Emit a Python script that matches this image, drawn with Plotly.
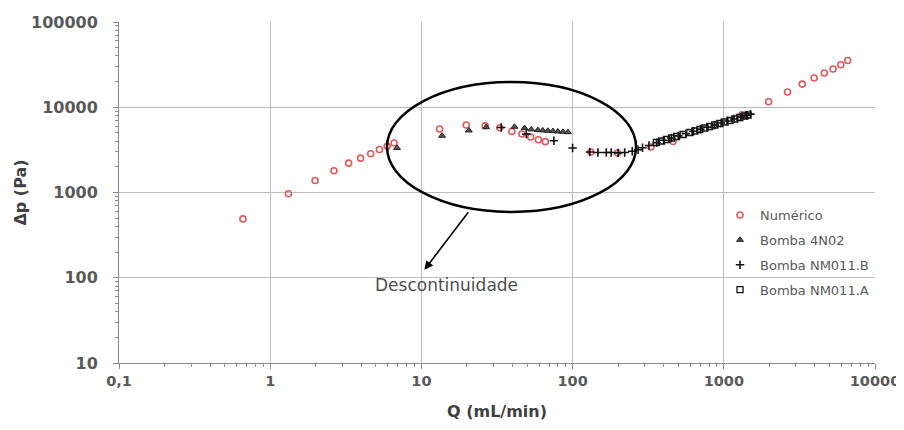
import plotly.graph_objects as go

# ---------------- data ----------------
num_q = [0.66, 1.32, 1.98, 2.64, 3.3, 3.96, 4.62, 5.28, 5.94, 6.6,
         13.2, 19.8, 26.4, 33, 39.6, 46.2, 52.8, 59.4, 66,
         132, 198, 330, 462,
         1320, 1980, 2640, 3300, 3960, 4620, 5280, 5940, 6600]
num_dp = [490, 966, 1383, 1800, 2210, 2530, 2850, 3190, 3480, 3800,
          5550, 6200, 6050, 5750, 5200, 4850, 4470, 4150, 3950,
          2980, 2900, 3420, 3960,
          8160, 11600, 15100, 18700, 22000, 25200, 28100, 31500, 35300]

b4n02_q = [6.9, 13.7, 20.6, 26.8, 41.3, 48.1, 53.3, 58.9, 63.5, 68.6, 74.1, 79.9, 86.3, 93.1]
b4n02_dp = [3330, 4630, 5340, 5850, 5900, 5700, 5500, 5400, 5350, 5300, 5250, 5200, 5150, 5100]

nm011b_q = [33.7, 49.4, 75.2, 100, 130, 147, 167, 180, 200, 221, 248, 271, 290, 320, 360,
            400, 450, 500, 560, 630, 700, 780, 870, 960, 1060, 1170, 1290, 1420, 1500]
nm011b_dp = [5780, 4840, 4040, 3320, 2980, 2950, 2950, 2950, 2920, 2950, 3050, 3170, 3350, 3560, 3850,
             4100, 4360, 4620, 4900, 5220, 5520, 5850, 6200, 6540, 6890, 7270, 7660, 8060, 8300]

nm011a_q = [358, 387, 418, 451, 487, 538, 596, 643, 694, 749, 808, 872, 941, 1016, 1096,
            1183, 1277, 1378, 1449]
nm011a_dp = [3860, 4018, 4186, 4357, 4538, 4790, 5056, 5265, 5483, 5710, 5945, 6193, 6450, 6714, 6993,
             7284, 7586, 7900, 8110]

x_tickvals = [0.1, 1, 10, 100, 1000, 10000]
x_ticktext = ["0,1", "1", "10", "100", "1000", "10000"]
y_tickvals = [10, 100, 1000, 10000, 100000]
y_ticktext = ["10", "100", "1000", "10000", "100000"]

x_minor = [m * 10 ** e for e in range(-1, 4) for m in range(2, 10)]
y_minor = [m * 10 ** e for e in range(1, 5) for m in range(2, 10)]

# ---------------- figure ----------------
fig = go.Figure()
fig.add_trace(go.Scatter(
    x=num_q, y=num_dp, mode="markers", name="Numérico", legendgroup="g1",
    marker=dict(symbol="circle-open", size=6, color="#E0585B", line=dict(width=1.6))))
fig.add_trace(go.Scatter(
    x=b4n02_q, y=b4n02_dp, mode="markers", name="Bomba 4N02", legendgroup="g2",
    marker=dict(symbol="triangle-up", size=6, color="#555555", line=dict(width=1, color="#222222"))))
fig.add_trace(go.Scatter(
    x=nm011b_q, y=nm011b_dp, mode="markers", name="Bomba NM011.B", legendgroup="g3",
    marker=dict(symbol="cross-thin", size=6, color="#111111", line=dict(width=1.6, color="#111111"))))
fig.add_trace(go.Scatter(
    x=nm011a_q, y=nm011a_dp, mode="markers", name="Bomba NM011.A", legendgroup="g4",
    marker=dict(symbol="square-open", size=6, color="#111111", line=dict(width=1.3))))

axis_common = dict(
    type="log", showgrid=True, gridcolor="#BDBDBD", gridwidth=1,
    showline=True, linecolor="#8C8C8C", linewidth=1,
    ticks="outside", ticklen=5, tickcolor="#8C8C8C",
    zeroline=False, automargin=False,
)

fig.update_xaxes(
    **axis_common, range=[-1, 4], tickmode="array", tickvals=x_tickvals, ticktext=x_ticktext,
    tickfont=dict(family="DejaVu Sans", size=14.5, color="#595959", weight="bold"),
    minor=dict(tickmode="array", tickvals=x_minor, ticks="outside", ticklen=3,
               tickcolor="#8C8C8C", showgrid=False),
    title=dict(text="Q (mL/min)", standoff=17,
               font=dict(family="DejaVu Sans", size=16, color="#404040", weight="bold")),
)
fig.update_yaxes(
    **axis_common, range=[1, 5], tickmode="array", tickvals=y_tickvals, ticktext=y_ticktext,
    tickfont=dict(family="DejaVu Sans", size=16, color="#595959", weight="bold"),
    ticklabelstandoff=12,
    minor=dict(tickmode="array", tickvals=y_minor, ticks="outside", ticklen=3,
               tickcolor="#8C8C8C", showgrid=False),
    title=dict(text="Δp (Pa)", standoff=0,
               font=dict(family="DejaVu Sans", size=16, color="#404040", weight="bold")),
)

# ellipse around the discontinuity (paper coordinates of the plot area)
fig.add_shape(type="circle", xref="paper", yref="paper",
              x0=0.3545, x1=0.6839, y0=0.443, y1=0.824,
              line=dict(color="black", width=2.5))

# arrow
fig.add_annotation(x=1.02, y=2.093, xref="x", yref="y", text="",
                   showarrow=True, ax=45, ay=-59, arrowhead=2, arrowsize=1.1,
                   arrowwidth=1.6, arrowcolor="black")
# label
fig.add_annotation(x=1.166, y=1.917, xref="x", yref="y", text="Descontinuidade",
                   showarrow=False,
                   font=dict(family="DejaVu Sans", size=17, color="#505050"))

# page body has an 8px margin: the figure is 896x422 so it fits the 904x430 window
fig.update_layout(
    width=896, height=422,
    margin=dict(l=111, r=29, t=14, b=67),
    paper_bgcolor="white", plot_bgcolor="white",
    showlegend=True,
    legend=dict(x=0.795, y=0.478, xanchor="left", yanchor="top",
                bgcolor="rgba(0,0,0,0)", tracegroupgap=5,
                font=dict(family="DejaVu Sans", size=13, color="#595959")),
)

fig.write_html("out.html")
